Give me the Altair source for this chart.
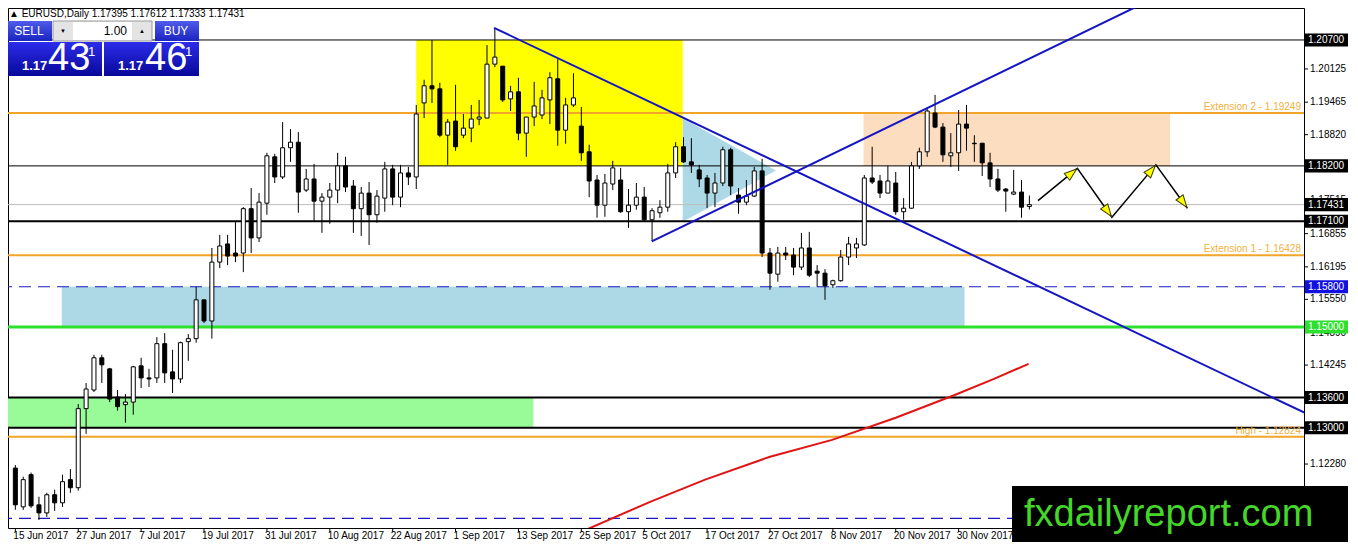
import math
import pandas as pd
import altair as alt

# EURUSD daily candles, 15 Jun 2017 .. 13 Dec 2017 (weekdays)
opens = [1.1220, 1.1143, 1.1207, 1.1147, 1.1131, 1.1167, 1.1151, 1.1197, 1.1181, 1.1338,
         1.1375, 1.1439, 1.1417, 1.1361, 1.1346, 1.1351, 1.1423, 1.1399, 1.1399, 1.1467,
         1.1411, 1.1397, 1.1471, 1.1477, 1.1554, 1.1512, 1.1629, 1.1665, 1.1647, 1.1647,
         1.1735, 1.1677, 1.1746, 1.1838, 1.1798, 1.1856, 1.1867, 1.1772, 1.1794, 1.1750,
         1.1758, 1.1772, 1.1820, 1.1780, 1.1735, 1.1766, 1.1723, 1.1756, 1.1814, 1.1758,
         1.1806, 1.1798, 1.1945, 1.1979, 1.1973, 1.1881, 1.1909, 1.1881, 1.1895, 1.1913,
         1.1915, 1.2022, 1.2018, 1.1953, 1.1967, 1.1885, 1.1917, 1.1921, 1.1951, 1.1993,
         1.1891, 1.1941, 1.1899, 1.1848, 1.1792, 1.1742, 1.1784, 1.1792, 1.1729, 1.1742,
         1.1758, 1.1713, 1.1727, 1.1738, 1.1806, 1.1858, 1.1828, 1.1812, 1.1796, 1.1766,
         1.1786, 1.1852, 1.1762, 1.1748, 1.1760, 1.1810, 1.1647, 1.1605, 1.1647, 1.1643,
         1.1619, 1.1657, 1.1611, 1.1607, 1.1584, 1.1592, 1.1639, 1.1657, 1.1663, 1.1796,
         1.1790, 1.1766, 1.1786, 1.1729, 1.1736, 1.1820, 1.1848, 1.1925, 1.1897, 1.1840,
         1.1846, 1.1903, 1.1865, 1.1865, 1.1826, 1.1794, 1.1774, 1.1764, 1.1768, 1.17395]
highs = [1.1226, 1.1203, 1.1211, 1.1163, 1.1171, 1.1177, 1.1207, 1.1218, 1.1347, 1.1389,
         1.1445, 1.1445, 1.1419, 1.1375, 1.1367, 1.1423, 1.1439, 1.1417, 1.1480, 1.1488,
         1.1455, 1.1471, 1.1486, 1.1580, 1.1554, 1.1657, 1.1683, 1.1683, 1.1709, 1.1738,
         1.1776, 1.1766, 1.1846, 1.1844, 1.1907, 1.1893, 1.1887, 1.1814, 1.1824, 1.1766,
         1.1786, 1.1846, 1.1838, 1.1792, 1.1778, 1.1788, 1.1772, 1.1828, 1.1822, 1.1822,
         1.1818, 1.1941, 1.1991, 1.2070, 1.1985, 1.1913, 1.1981, 1.1923, 1.1941, 1.1951,
         1.2060, 1.2094, 1.2018, 1.1979, 1.1995, 1.1917, 1.1987, 1.1971, 1.2006, 1.2032,
         1.1955, 1.2004, 1.1937, 1.1862, 1.1802, 1.1804, 1.1830, 1.1816, 1.1774, 1.1786,
         1.1778, 1.1736, 1.1752, 1.1824, 1.1867, 1.1877, 1.1875, 1.1822, 1.1802, 1.1806,
         1.1858, 1.1856, 1.1776, 1.1792, 1.1818, 1.1834, 1.1657, 1.1659, 1.1659, 1.1657,
         1.1687, 1.1689, 1.1623, 1.1615, 1.1594, 1.1653, 1.1679, 1.1677, 1.1802, 1.1858,
         1.1802, 1.1820, 1.1808, 1.1756, 1.1828, 1.1856, 1.1935, 1.1961, 1.1905, 1.1885,
         1.1931, 1.1941, 1.1881, 1.1865, 1.1846, 1.1814, 1.1776, 1.1812, 1.1792, 1.17612]
lows = [1.1137, 1.1137, 1.1141, 1.1117, 1.1123, 1.1135, 1.1143, 1.1171, 1.1175, 1.1288,
        1.1371, 1.1389, 1.1351, 1.1334, 1.1310, 1.1326, 1.1379, 1.1381, 1.1389, 1.1389,
        1.1369, 1.1389, 1.1433, 1.1469, 1.1508, 1.1477, 1.1617, 1.1623, 1.1629, 1.1609,
        1.1647, 1.1669, 1.1723, 1.1786, 1.1794, 1.1828, 1.1727, 1.1768, 1.1711, 1.1687,
        1.1705, 1.1746, 1.1768, 1.1687, 1.1681, 1.1663, 1.1707, 1.1729, 1.1742, 1.1738,
        1.1782, 1.1774, 1.1915, 1.1945, 1.1877, 1.1822, 1.1850, 1.1875, 1.1867, 1.1901,
        1.1915, 1.2016, 1.1947, 1.1929, 1.1871, 1.1838, 1.1899, 1.1913, 1.1903, 1.1860,
        1.1864, 1.1937, 1.1830, 1.1758, 1.1717, 1.1719, 1.1772, 1.1727, 1.1697, 1.1733,
        1.1709, 1.1671, 1.1717, 1.1729, 1.1796, 1.1826, 1.1806, 1.1778, 1.1736, 1.1738,
        1.1780, 1.1762, 1.1725, 1.1742, 1.1758, 1.1639, 1.1574, 1.1590, 1.1633, 1.1603,
        1.1613, 1.1599, 1.1580, 1.1554, 1.1578, 1.1590, 1.1623, 1.1637, 1.1661, 1.1784,
        1.1756, 1.1766, 1.1723, 1.1713, 1.1735, 1.1814, 1.1838, 1.1895, 1.1828, 1.1818,
        1.1810, 1.1850, 1.1828, 1.1800, 1.1778, 1.1768, 1.1729, 1.1762, 1.1717, 1.17333]
closes = [1.1147, 1.1197, 1.1145, 1.1131, 1.1167, 1.1151, 1.1193, 1.1181, 1.1338, 1.1377,
          1.1439, 1.1425, 1.1357, 1.1342, 1.1351, 1.1421, 1.1399, 1.1397, 1.1467, 1.1409,
          1.1397, 1.1469, 1.1477, 1.1554, 1.1512, 1.1629, 1.1661, 1.1641, 1.1641, 1.1735,
          1.1677, 1.1748, 1.1840, 1.1798, 1.1856, 1.1867, 1.1768, 1.1794, 1.1750, 1.1758,
          1.1772, 1.1820, 1.1778, 1.1735, 1.1766, 1.1723, 1.1760, 1.1814, 1.1758, 1.1806,
          1.1798, 1.1923, 1.1979, 1.1973, 1.1881, 1.1907, 1.1858, 1.1895, 1.1913, 1.1917,
          1.2022, 1.2036, 1.1951, 1.1967, 1.1885, 1.1917, 1.1939, 1.1955, 1.1995, 1.1891,
          1.1941, 1.1955, 1.1846, 1.1790, 1.1742, 1.1786, 1.1816, 1.1729, 1.1742, 1.1758,
          1.1713, 1.1731, 1.1738, 1.1806, 1.1858, 1.1828, 1.1822, 1.1794, 1.1766, 1.1786,
          1.1852, 1.1780, 1.1748, 1.1760, 1.1810, 1.1647, 1.1607, 1.1647, 1.1643, 1.1619,
          1.1657, 1.1603, 1.1607, 1.1582, 1.1592, 1.1639, 1.1665, 1.1665, 1.1796, 1.1788,
          1.1766, 1.1790, 1.1729, 1.1736, 1.1820, 1.1848, 1.1929, 1.1897, 1.1842, 1.1846,
          1.1903, 1.1895, 1.1864, 1.1826, 1.1794, 1.1772, 1.1770, 1.1768, 1.1738, 1.17431]

date_labels = ["15 Jun 2017", "27 Jun 2017", "7 Jul 2017", "19 Jul 2017", "31 Jul 2017",
               "10 Aug 2017", "22 Aug 2017", "1 Sep 2017", "13 Sep 2017", "25 Sep 2017",
               "5 Oct 2017", "17 Oct 2017", "27 Oct 2017", "8 Nov 2017", "20 Nov 2017",
               "30 Nov 2017"]
# scale ticks that are not fully hidden behind a price box
price_ticks = [1.11625, 1.12280, 1.12940, 1.14245, 1.14890, 1.15550, 1.16195,
               1.16855, 1.17515, 1.18820, 1.19465, 1.20125]

# horizontal levels
black_thin = [1.20700, 1.18200]
black_thick = [1.17100, 1.13600, 1.13000]
dashed_levels = [1.15800, 1.11200]
green_level = [1.15000]
fib_levels = [1.19249, 1.16428, 1.12824]
fib_names = ["Extension 2 - 1.19249", "Extension 1 - 1.16428", "High - 1.12824"]
bid, ask = 1.17431, 1.17461

box_prices = [1.20700, 1.18200, 1.17431, 1.17100, 1.15800, 1.15000, 1.13600, 1.13000]
box_colors = ["black", "black", "black", "black", "#1010E0", "#2EE02E", "black", "black"]

# zones (bar index from/to, price from/to)
zone_x0 = [51.0, 107.9, 5.9, -5.0]
zone_x1 = [84.9, 146.9, 120.75, 65.9]
zone_p0 = [1.1820, 1.1820, 1.1500, 1.1300]
zone_p1 = [1.2070, 1.19249, 1.1580, 1.1360]
zone_col = ["#FFFF00", "#FCDDBF", "#ADD8E6", "#98FB98"]

# pennant triangle
tri_x = [84.9, 96.75]
tri_top = [1.1915, 1.1811]
tri_bot = [1.1709, 1.1811]

# trend lines
down_x = [60.9, 164.0]
down_p = [1.2094, 1.1330]
up_x = [80.96, 145.0]
up_p = [1.1670, 1.2154]

# moving average (red)
ma_x = [71.5, 80.75, 87.75, 95.9, 103.9, 112.0, 119.5, 124.5, 128.9]
ma_p = [1.1090, 1.1153, 1.1197, 1.1242, 1.1276, 1.1320, 1.1365, 1.1397, 1.1427]

# projected zigzag
zig_x = [130.1, 135.1, 139.5, 145.1, 149.1]
zig_p = [1.1751, 1.1815, 1.1718, 1.1822, 1.1736]

FONT = "Liberation Sans"
W, H = 1296, 520
XMIN, XMAX = -0.3, 163.3
YMIN, YMAX = 1.1101, 1.21335
xs = alt.Scale(domain=[XMIN, XMAX], nice=False, zero=False)
ys = alt.Scale(domain=[YMIN, YMAX], nice=False, zero=False)

df = pd.DataFrame({"i": range(len(opens)), "open": opens, "high": highs,
                   "low": lows, "close": closes})

X = lambda f: alt.X(f, scale=xs, axis=None)
Y = lambda f: alt.Y(f, scale=ys, axis=None)

zones = alt.Chart(pd.DataFrame({"x0": zone_x0, "x1": zone_x1, "p0": zone_p0,
                                "p1": zone_p1, "col": zone_col})).mark_rect(clip=True).encode(
    x=X("x0:Q"), x2="x1:Q", y=Y("p0:Q"), y2="p1:Q", fill=alt.Fill("col:N", scale=None))

tri = alt.Chart(pd.DataFrame({"x": tri_x, "top": tri_top, "bot": tri_bot})).mark_area(
    color="#ADD8E6", clip=True).encode(x=X("x:Q"), y=Y("top:Q"), y2="bot:Q")


def hlines(levels, **kw):
    return alt.Chart(pd.DataFrame({"p": levels})).mark_rule(clip=True, **kw).encode(y=Y("p:Q"))


lines = [
    hlines(black_thin, color="black", strokeWidth=1),
    hlines(black_thick, color="black", strokeWidth=2),
    hlines(fib_levels, color="#F3A52A", strokeWidth=2),
    hlines(dashed_levels, color="#1A1AC0", strokeWidth=1.2, strokeDash=[12, 7]),
    hlines(green_level, color="#2EE02E", strokeWidth=3),
    hlines([bid], color="#BDBDBD", strokeWidth=1),
]

fib_text = alt.Chart(pd.DataFrame({"p": fib_levels, "t": fib_names})).mark_text(
    align="right", baseline="bottom", dy=-1, color="#F2B040", fontSize=10, font=FONT).encode(
    x=alt.value(W - 3), y=Y("p:Q"), text="t:N")

wicks = alt.Chart(df).mark_rule(color="black", strokeWidth=1, clip=True).encode(
    x=X("i:Q"), y=Y("low:Q"), y2="high:Q")
bodies = alt.Chart(df).mark_bar(size=4, stroke="black", strokeWidth=1, clip=True).encode(
    x=X("i:Q"), y=Y("open:Q"), y2="close:Q",
    fill=alt.condition("datum.close >= datum.open", alt.value("white"), alt.value("black")))

trend = alt.Chart(pd.DataFrame({"id": ["d", "d", "u", "u"], "x": down_x + up_x,
                                "p": down_p + up_p})).mark_line(
    color="#1414C4", strokeWidth=2, clip=True).encode(x=X("x:Q"), y=Y("p:Q"), detail="id:N")

ma = alt.Chart(pd.DataFrame({"x": ma_x, "p": ma_p})).mark_line(
    color="#E01414", strokeWidth=2, clip=True).encode(x=X("x:Q"), y=Y("p:Q"))

zig = alt.Chart(pd.DataFrame({"x": zig_x, "p": zig_p})).mark_line(
    color="black", strokeWidth=1.5).encode(x=X("x:Q"), y=Y("p:Q"), order="x:Q")

# arrow heads: tip sits on the end of each zigzag leg
px_i = W / (XMAX - XMIN)
px_p = H / (YMAX - YMIN)
HEAD = 200
reach = math.sqrt(HEAD) / 2  # tip distance from the symbol centre, px
heads = []
for k in range(len(zig_x) - 1):
    x0, x1, p0, p1 = zig_x[k], zig_x[k + 1], zig_p[k], zig_p[k + 1]
    dx, dy = (x1 - x0) * px_i, (p1 - p0) * px_p
    seg = math.hypot(dx, dy)
    f = 1 - (reach + 1) / seg
    ang = math.degrees(math.atan2(dx, dy)) % 360
    heads.append({"x": x0 + f * (x1 - x0), "p": p0 + f * (p1 - p0), "a": ang})
arrow_heads = alt.Chart(pd.DataFrame(heads)).mark_point(
    shape="M0,-1L0.62,0.75L-0.62,0.75Z", filled=True, fill="#FFFF00", stroke="#3A3A00",
    strokeWidth=1, size=HEAD, opacity=1).encode(
    x=X("x:Q"), y=Y("p:Q"), angle=alt.Angle("a:Q", scale=None))

# time scale (bottom) and price scale (right), drawn through the same scales
xt = pd.DataFrame({"i": [8 * k for k in range(len(date_labels))], "t": date_labels})
x_ticks = alt.Chart(xt).mark_rule(color="black", strokeWidth=1).encode(
    x=X("i:Q"), y=alt.value(H), y2=alt.value(H + 4))
x_labels = alt.Chart(xt).mark_text(
    align="left", baseline="middle", dx=-2, fontSize=10, font=FONT, color="black").encode(
    x=X("i:Q"), y=alt.value(H + 8), text="t:N")

yt = pd.DataFrame({"p": price_ticks, "t": ["%.5f" % p for p in price_ticks]})
y_ticks = alt.Chart(yt).mark_rule(color="black", strokeWidth=1).encode(
    y=Y("p:Q"), x=alt.value(W), x2=alt.value(W + 4))
y_labels = alt.Chart(yt).mark_text(
    align="left", baseline="middle", fontSize=10, font=FONT, color="black").encode(
    y=Y("p:Q"), x=alt.value(W + 6), text="t:N")

# price boxes on the right scale
box_df = pd.DataFrame({"p": box_prices, "col": box_colors,
                       "t": ["%.5f" % p for p in box_prices]})
box_df["lo"] = box_df["p"] - 0.0013
box_df["hi"] = box_df["p"] + 0.0013
box_rect = alt.Chart(box_df).mark_rect().encode(
    x=alt.value(W + 1), x2=alt.value(W + 44), y=Y("lo:Q"), y2="hi:Q",
    fill=alt.Fill("col:N", scale=None))
box_text = alt.Chart(box_df).mark_text(
    align="left", baseline="middle", color="white", fontSize=10, font=FONT).encode(
    x=alt.value(W + 4), y=Y("p:Q"), text="t:N")

# terminal overlays (pixel layout)
one = pd.DataFrame({"k": [0]})


def box(x0, x1, y0, y1, **kw):
    return alt.Chart(one).mark_rect(**kw).encode(
        x=alt.value(x0), x2=alt.value(x1), y=alt.value(y0), y2=alt.value(y1))


def txt(x, y, s, **kw):
    kw.setdefault("font", FONT)
    return alt.Chart(one).mark_text(text=s, **kw).encode(x=alt.value(x), y=alt.value(y))


grad_btn = alt.Gradient(gradient="linear", x1=0, x2=0, y1=0, y2=1,
                        stops=[alt.GradientStop(color="#4F5BEA", offset=0),
                               alt.GradientStop(color="#1A24C0", offset=1)])
grad_px = alt.Gradient(gradient="linear", x1=0, x2=0, y1=0, y2=1,
                       stops=[alt.GradientStop(color="#2C2CEA", offset=0),
                              alt.GradientStop(color="#08089A", offset=1)])
sell_big, buy_big = ("%.5f" % bid), ("%.5f" % ask)

header = "\u25b2 EURUSD,Daily  %.5f %.5f %.5f %.5f" % (opens[-1], highs[-1], lows[-1], closes[-1])

overlay = [
    txt(1, 6, header, align="left", baseline="middle", fontSize=10, color="black"),
    box(0, 44, 13, 33, fill=grad_btn),
    box(45, 144, 13, 33, fill="#E4E4E4", stroke="#9A9A9A", strokeWidth=1),
    box(65, 124, 14, 32, fill="white"),
    box(147, 191, 13, 33, fill=grad_btn),
    box(0, 94, 34, 68, fill=grad_px),
    box(96, 191, 34, 68, fill=grad_px),
    txt(21, 23, "SELL", align="center", baseline="middle", fontSize=12, color="white"),
    txt(168, 23, "BUY", align="center", baseline="middle", fontSize=12, color="white"),
    txt(55, 23, "\u25bc", align="center", baseline="middle", fontSize=6, color="black"),
    txt(134, 23, "\u25b2", align="center", baseline="middle", fontSize=6, color="black"),
    txt(119, 23, "1.00", align="right", baseline="middle", fontSize=12, color="black"),
    txt(14, 62, sell_big[:4], align="left", baseline="alphabetic", fontSize=13,
        fontWeight="bold", color="white"),
    txt(40, 62, sell_big[4:6], align="left", baseline="alphabetic", fontSize=38, color="white"),
    txt(80, 44, sell_big[6], align="left", baseline="middle", fontSize=13, color="white"),
    txt(110, 62, buy_big[:4], align="left", baseline="alphabetic", fontSize=13,
        fontWeight="bold", color="white"),
    txt(137, 62, buy_big[4:6], align="left", baseline="alphabetic", fontSize=38, color="white"),
    txt(177, 44, buy_big[6], align="left", baseline="middle", fontSize=13, color="white"),
    box(1004, 1340, 478, 534, fill="black"),
    txt(1016, 518, "fxdailyreport.com", align="left", baseline="alphabetic",
        fontSize=38, color="#45D62A"),
]

chart = alt.layer(
    zones, tri, *lines, fib_text, wicks, bodies, trend, ma, zig, arrow_heads,
    x_ticks, x_labels, y_ticks, y_labels, box_rect, box_text, *overlay,
).properties(
    width=W, height=H,
    autosize=alt.AutoSizeParams(type="none"),
    padding={"left": 0, "top": 0, "right": 44, "bottom": 14},
    background="white",
).configure_view(
    stroke="black", strokeWidth=1
)

chart.save("out.html", embed_options={"renderer": "svg", "actions": False})
